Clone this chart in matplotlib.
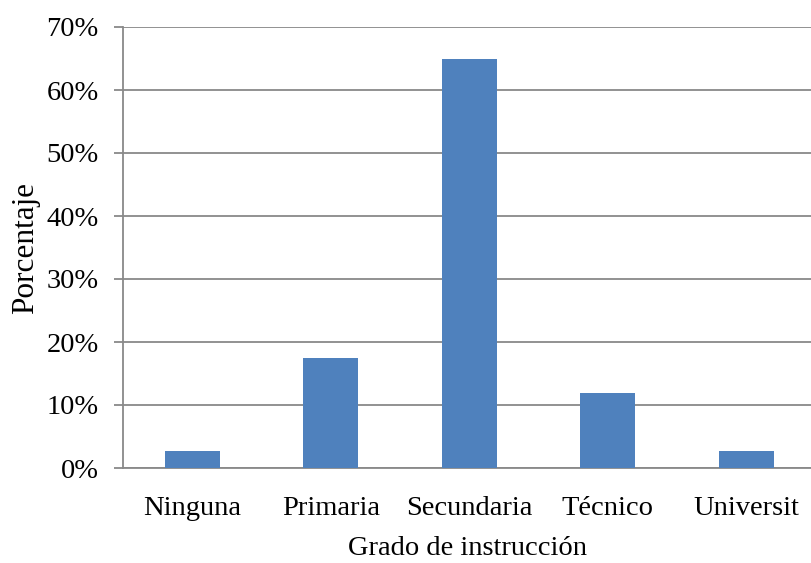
import matplotlib as mpl
mpl.use("agg")
import matplotlib.pyplot as plt
from matplotlib.ticker import PercentFormatter

mpl.rcParams['font.family'] = ['Liberation Serif', 'DejaVu Serif']

# datos
categorias = ["Ninguna", "Primaria", "Secundaria", "Técnico", "Universit"]
porcentajes = [2.7, 17.5, 65.0, 11.9, 2.7]
yticks = [0, 10, 20, 30, 40, 50, 60, 70]

gris = "#898989"
azul = "#4F81BD"

fig = plt.figure(figsize=(8.12, 5.63), dpi=100)
ax = fig.add_axes([123/812, 95/563, 689/812, 441/563])

x = list(range(len(categorias)))
ax.bar(x, porcentajes, width=0.4, color=azul, zorder=3)

ax.set_xlim(-0.5, 4.475)
ax.set_ylim(0, 70)
ax.set_yticks(yticks)
ax.yaxis.set_major_formatter(PercentFormatter(decimals=0))
ax.set_xticks(x)
ax.set_xticklabels(categorias)

ax.grid(axis="y", color=gris, linewidth=1.3, zorder=0)
for s in ["top", "right"]:
	ax.spines[s].set_visible(False)
for s in ["left", "bottom"]:
	ax.spines[s].set_color(gris)
	ax.spines[s].set_linewidth(1.3)

ax.tick_params(axis="y", length=6.5, width=1.3, color=gris, labelsize=20.5, pad=11)
ax.tick_params(axis="x", length=0, labelsize=20.5, pad=20)

ax.set_xlabel("Grado de instrucción", fontsize=20.5, labelpad=11)
ax.set_ylabel("Porcentaje", fontsize=22.5, labelpad=4.5)

fig.savefig("out.png", dpi=100)
